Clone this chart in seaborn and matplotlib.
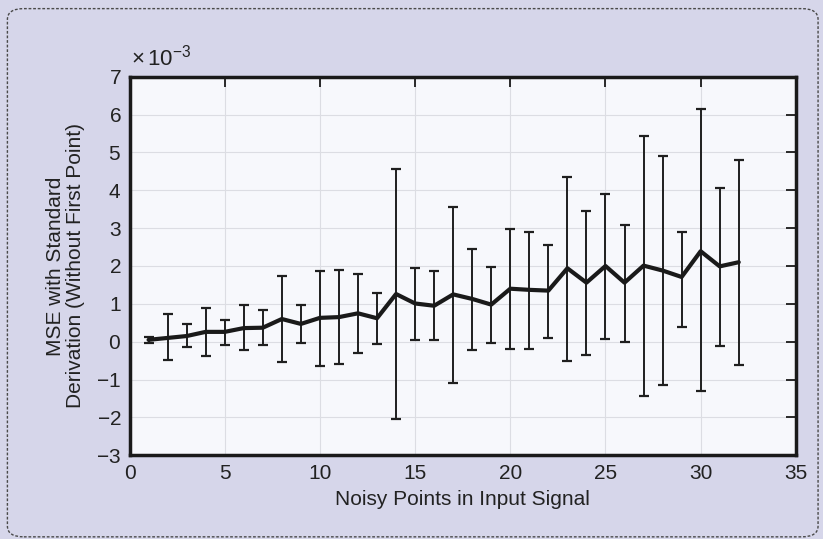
import numpy as np
import pandas as pd
import seaborn as sns
import matplotlib
matplotlib.use("Agg")
import matplotlib.pyplot as plt
from matplotlib.patches import FancyBboxPatch
from matplotlib.ticker import ScalarFormatter

# Data (values in units of 1e-3)
noisy_points = list(range(1, 33))
mse_mean = [0.05, 0.10, 0.15, 0.26, 0.26, 0.36, 0.37, 0.60, 0.47, 0.63,
            0.65, 0.75, 0.62, 1.26, 1.01, 0.95, 1.25, 1.13, 0.98, 1.40,
            1.37, 1.35, 1.94, 1.56, 2.00, 1.56, 2.01, 1.88, 1.71, 2.39,
            1.99, 2.10]
err_upper = [0.12, 0.72, 0.47, 0.89, 0.58, 0.96, 0.84, 1.74, 0.97, 1.86,
             1.89, 1.79, 1.28, 4.55, 1.95, 1.86, 3.57, 2.45, 1.97, 2.98,
             2.91, 2.55, 4.35, 3.45, 3.91, 3.07, 5.44, 4.90, 2.91, 6.15,
             4.07, 4.79]
err_lower = [-0.03, -0.47, -0.15, -0.37, -0.08, -0.23, -0.09, -0.54, -0.03, -0.63,
             -0.58, -0.31, -0.06, -2.04, 0.04, 0.04, -1.10, -0.21, -0.03, -0.18,
             -0.20, 0.10, -0.51, -0.35, 0.08, 0.00, -1.44, -1.14, 0.39, -1.31,
             -0.10, -0.62]
scale = 1e-3
scale_label = r"$\times\,10^{-3}$"

x_ticks = [0, 5, 10, 15, 20, 25, 30, 35]
y_ticks = [-3, -2, -1, 0, 1, 2, 3, 4, 5, 6, 7]

sns.set_style("white")
plt.rcParams['font.family'] = ['Liberation Sans', 'DejaVu Sans']
plt.rcParams['mathtext.fontset'] = 'custom'
plt.rcParams['mathtext.rm'] = 'Liberation Sans'
plt.rcParams['mathtext.it'] = 'Liberation Sans'
plt.rcParams['axes.unicode_minus'] = True

df = pd.DataFrame({
    "x": noisy_points,
    "mean": np.array(mse_mean) * scale,
    "upper": np.array(err_upper) * scale,
    "lower": np.array(err_lower) * scale,
})

bg = "#d6d6ea"
fig = plt.figure(figsize=(8.23, 5.39), dpi=100, facecolor=bg)
ax = fig.add_axes([0.1574, 0.1553, 0.967 - 0.1574, 0.8577 - 0.1553])
ax.set_facecolor("#f7f8fc")

# dashed rounded border
border = FancyBboxPatch((0.009, 0.004), 0.985, 0.98,
                        boxstyle="round,pad=0,rounding_size=0.02",
                        transform=fig.transFigure, facecolor="none",
                        edgecolor="#4a4a4a", linestyle=(0, (2, 1.3)),
                        linewidth=1.0, zorder=0)
fig.patches.append(border)

ax.errorbar(df["x"], df["mean"],
            yerr=[df["mean"] - df["lower"], df["upper"] - df["mean"]],
            fmt="none", ecolor="#1f1f1f", elinewidth=1.4, capsize=3.8,
            capthick=1.6, zorder=3)
sns.lineplot(data=df, x="x", y="mean", ax=ax, color="#1a1a1a",
             linewidth=3.0, zorder=4)

ax.set_xlim(0, 35)
ax.set_ylim(-3 * scale, 7 * scale)
ax.set_xticks(x_ticks)
ax.set_yticks(np.array(y_ticks) * scale)

fmt = ScalarFormatter(useMathText=True)
fmt.set_powerlimits((-2, 2))
ax.yaxis.set_major_formatter(fmt)
ax.yaxis.get_offset_text().set_visible(False)
fig.text(131 / 823, 1 - 58 / 539, scale_label, fontsize=16,
         color="#222222", ha="left", va="center")

ax.grid(True, color="#dcdde3", linewidth=0.8)
for s in ax.spines.values():
    s.set_linewidth(2.5)
    s.set_color("#1a1a1a")
ax.tick_params(direction="in", length=7, width=1.3, top=True, right=True,
               labelsize=15, colors="#1a1a1a", pad=6)
for lbl in ax.get_xticklabels() + ax.get_yticklabels():
    lbl.set_color("#222222")

ax.set_xlabel("Noisy Points in Input Signal", fontsize=15, color="#222222",
              labelpad=5)
ax.set_ylabel("MSE with Standard\nDerivation (Without First Point)",
              fontsize=15, color="#222222", labelpad=8, linespacing=1.05)

fig.savefig("out.png", dpi=100, facecolor=bg)
